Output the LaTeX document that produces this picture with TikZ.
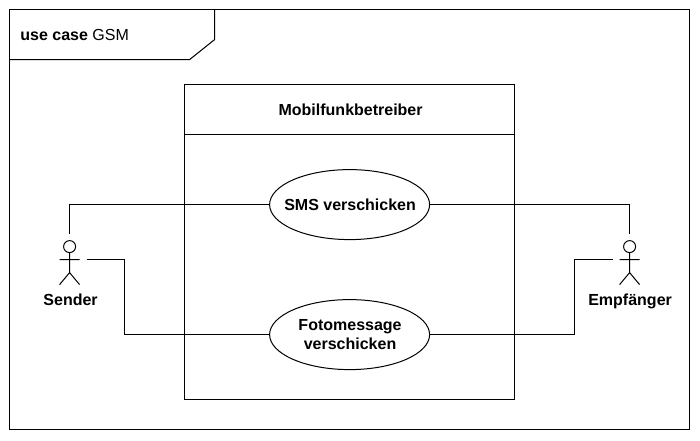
\documentclass[tikz,border=0pt]{standalone}
\usepackage{fontspec}
\setmainfont{Liberation Sans}
\usetikzlibrary{shapes.geometric}
\tikzset{
  x=0.75pt,y=-0.75pt,
  ln/.style={draw=black,line width=0.75pt},
  uc/.style={ellipse,ln,fill=white,minimum width=120pt,minimum height=52.5pt,inner sep=0pt,align=center,font=\fontsize{12pt}{14.4pt}\selectfont\bfseries},
  lbl/.style={inner sep=0pt,anchor=base,font=\fontsize{12pt}{14.4pt}\selectfont\bfseries},
}
\begin{document}
\begin{tikzpicture}
\useasboundingbox (0.4,0.4) rectangle (700.4,440.4);
\fill[white] (0.4,0.4) rectangle (700.4,440.4);
\draw[ln] (10,10) rectangle (690,430);
\draw[ln] (10,60) -- (190,60) -- (215,40) -- (215,10);
\node[inner sep=0pt,anchor=base west,font=\fontsize{12pt}{14.4pt}\selectfont] (title) at (20.5,40.5) {\textbf{use case} GSM};
\draw[ln] (185,85) rectangle (515,400);
\draw[ln] (185,135) -- (515,135);
\node[lbl] (sys) at (351,115.5) {Mobilfunkbetreiber};
\node[uc] (sms) at (350,205) {\makebox[0pt]{\hspace{0.7pt}SMS verschicken}};
\node[uc] (foto) at (350,335) {\hspace{0.7pt}\raisebox{-0.6pt}{Fotomessage}\\\hspace{0.7pt}\raisebox{-0.6pt}{verschicken}};
\coordinate (sh) at (70,234);
\coordinate (sa) at (87,260);
\coordinate (eh) at (630,234);
\coordinate (ea) at (613,260);
\foreach \n/\c in {s/70,e/630}{
  \draw[ln] (\c,247) circle (6);
  \draw[ln] (\c,253) -- (\c,273) (\c-10,260) -- (\c+10,260) (\c-10,285) -- (\c,273) -- (\c+10,285);
}
\node[lbl] (sender) at (71,305.6) {Sender};
\node[lbl] (empf) at (630.5,305.6) {Empfänger};
\draw[ln] (sms.west) -- (70,205) -- (sh);
\draw[ln] (sa) -- (125,260) -- (125,335) -- (foto.west);
\draw[ln] (sms.east) -- (630,205) -- (eh);
\draw[ln] (foto.east) -- (575,335) -- (575,260) -- (ea);
\end{tikzpicture}
\end{document}
